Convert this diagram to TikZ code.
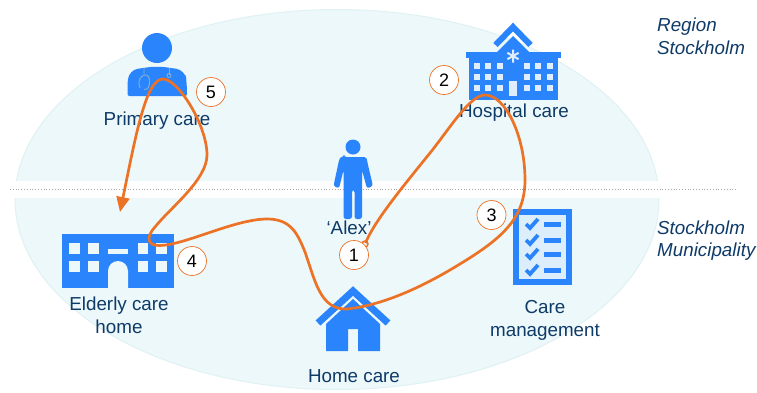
\documentclass[tikz,border=0pt]{standalone}
\usepackage{fontspec}
\setmainfont{Liberation Sans}
\usetikzlibrary{arrows.meta,bending}
\definecolor{bgtint}{HTML}{ECF8F9}
\definecolor{bgedge}{HTML}{E0F1F4}
\definecolor{iconblue}{HTML}{2A84FC}
\definecolor{labelblue}{HTML}{0E3A68}
\definecolor{journey}{HTML}{EC7226}
\definecolor{steth}{HTML}{7FB0D8}
\tikzset{
  lab/.style={font=\fontsize{18.8}{22}\selectfont,text=labelblue,inner sep=0pt,align=center},
  orglab/.style={font=\fontsize{18.8}{22.5}\selectfont\itshape,text=labelblue,inner sep=0pt,align=left,anchor=west},
  badge/.style={circle,draw=journey,line width=0.7pt,fill=white,minimum size=29pt,inner sep=0pt,font=\fontsize{18}{20}\selectfont,text=black},
  ic/.style={fill=iconblue,draw=none},
  win/.style={fill=bgtint,draw=none},
  chev/.style={draw=iconblue,line width=7pt,miter limit=10},
  route/.style={draw=journey,line width=2.7pt,line join=round}
}
\begin{document}
\begin{tikzpicture}[x=1pt,y=-1pt]
\useasboundingbox (0,0) rectangle (757,392);
% region ellipse and divider
\draw[fill=bgtint,draw=bgedge,line width=1pt] (337,199.5) ellipse [x radius=322,y radius=190];
\fill[white] (8,181) rectangle (664,198);
\draw[gray!70,line width=0.8pt,dotted] (10,189) -- (737,189);
% doctor
\fill[ic] (157,48) circle (15);
\fill[ic] (127.5,96) [rounded corners=2pt] -- (127.5,84) [rounded corners=9pt] -- (129,70) -- (157,66) -- (185,70) -- (187,84) [rounded corners=2pt] -- (187,96) -- cycle;
\draw[steth,line width=0.9pt] (144,68) -- (144,74) (140,88) .. controls (135,76) and (149,70) .. (149.5,80) .. controls (150,86) and (148,90) .. (144,89.5);
\draw[steth,line width=0.9pt] (169,68) -- (169,75);
\draw[steth,line width=0.9pt] (169,75.5) circle (2);
% hospital
\draw[chev,line width=6pt] (495.5,45) -- (513,27) -- (530.5,45);
\fill[ic] (513,36) -- (530,53) -- (496,53) -- cycle;
\fill[ic] (466,52) rectangle (561,57.5);
\fill[ic] (469,57) rectangle (558,100);
\foreach \xx in {477,488,500,527,538,550}\foreach \yy in {66,77,88}
  \fill[white!85!iconblue] (\xx-3.2,\yy-3.2) rectangle (\xx+3.2,\yy+3.2);
\fill[white!85!iconblue] (509,81) rectangle (517,96);
\draw[white!85!iconblue,line width=2pt] (513,49.5) -- (513,62.5) (507.4,52.8) -- (518.6,59.2) (507.4,59.2) -- (518.6,52.8);
% Alex
\fill[ic] (353,147) circle (7.5);
\fill[ic,rounded corners=2.5pt] (344,157) -- (362,157) .. controls (367,157) and (367,160) .. (368,165) -- (373,186) -- (367,188.5) -- (362,170) -- (362,219) -- (354.5,219) -- (354.5,190) -- (352,190) -- (352,219) -- (343.5,219) -- (343.5,170) -- (339,188.5) -- (333.5,186) -- (338,165) .. controls (339,160) and (340,157) .. (344,157) -- cycle;
% elderly care home
\fill[ic] (62,234) rectangle (174,288);
\foreach \xx/\xy in {69/80,88/99,138/148,156/167}\foreach \yy/\yz in {243/254,261/272}
  \fill[win] (\xx,\yy) rectangle (\xy,\yz);
\fill[win] (108,249) rectangle (128,254);
\fill[win] (108,288) -- (108,271) arc[start angle=180,end angle=360,radius=10] -- (128,288) -- cycle;
% home
\draw[chev,line width=7pt] (318,323) -- (353,291) -- (388,323);
\fill[ic] (353,299) -- (380,324) -- (380,351) -- (358,351) -- (358,329) -- (348,329) -- (348,351) -- (326,351) -- (326,324) -- cycle;
% care management
\fill[ic] (513,209) rectangle (572,285);
\fill[bgtint!80!iconblue!60!white] (519,215) rectangle (566,279);
\foreach \yy in {224,240,254,270}{
  \draw[iconblue,line width=3.8pt] (526,\yy) -- (530,\yy+4) -- (538,\yy-5);
  \fill[ic] (544,\yy-2.5) rectangle (561,\yy+2.5);
}
% labels
\node[lab] (primary) at (157,120.5) {Primary care};
\node[lab] (hospital) at (514,113) {Hospital care};
\node[lab] (alex) at (349,228) {‘Alex’};
\node[lab] (elderly) at (119,315.5) {Elderly care\\[1pt]home};
\node[lab] (home) at (354,376.5) {Home care};
\node[lab] (caremgmt) at (545,320.5) {Care\\[1pt]management};
\node[orglab] (region) at (657,36.5) {Region\\Stockholm};
\node[orglab] (muni) at (657,240.5) {Stockholm\\Municipality};
% journey
\coordinate (start) at (365.5,243);
\coordinate (tip) at (120,212);
\draw[route,-{Triangle[length=15pt,width=13pt]}] (start)
 .. controls (374,222) and (400,190) .. (430,153)
 .. controls (450,128) and (470,95) .. (485,95)
 .. controls (505,95) and (525,135) .. (525,180)
 .. controls (525,220) and (500,240) .. (455,267)
 .. controls (425,285) and (385,305) .. (347,309)
 .. controls (320,310) and (315,280) .. (305,252)
 .. controls (297,232) and (290,219) .. (267,219)
 .. controls (235,219) and (185,245) .. (160,245.5)
 .. controls (148,246) and (145,238) .. (155,227)
 .. controls (170,208) and (207,180) .. (207,155)
 .. controls (207,125) and (178,79) .. (163,79)
 .. controls (145,79) and (135,140) .. (tip);
\draw[journey,line width=1.4pt] (365,244) circle (3);
% badges
\node[badge] (b5) at (211,92) {5};
\node[badge] (b2) at (444,80) {2};
\node[badge] (b1) at (354,255) {1};
\node[badge] (b4) at (192,261) {4};
\node[badge] (b3) at (491.5,215) {3};
\end{tikzpicture}
\end{document}
